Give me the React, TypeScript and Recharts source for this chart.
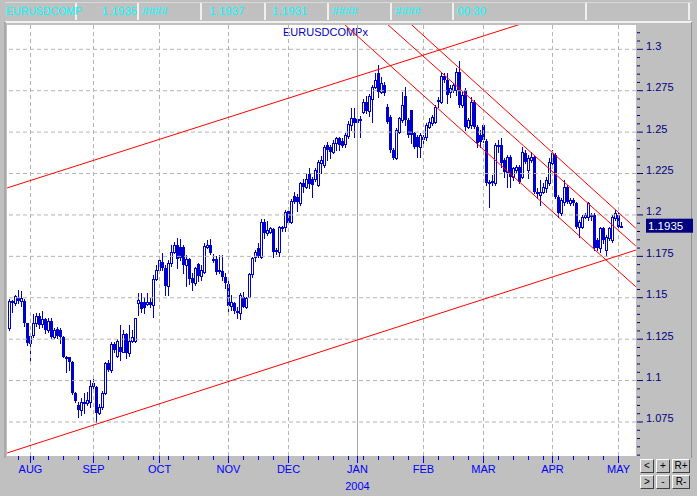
import React from 'react';
import { ComposedChart, Bar, XAxis, YAxis, ReferenceLine } from 'recharts';

// Daily EUR/USD bars, 23 Jul 2003 .. 4 May 2004 (index = trading day)
const opens = [
  1.1315, 1.1478, 1.1466, 1.1496, 1.1482, 1.1482, 1.1345, 1.1229, 1.1275, 1.1345,
  1.1390, 1.1340, 1.1370, 1.1305, 1.1360, 1.1265, 1.1310, 1.1305, 1.1265, 1.1145,
  1.1140, 1.1110, 1.0923, 1.0853, 1.0822, 1.0864, 1.0864, 1.0873, 1.0983, 1.0963,
  1.0806, 1.0843, 1.0927, 1.1104, 1.1064, 1.1221, 1.1148, 1.1205, 1.1175, 1.1281,
  1.1165, 1.1240, 1.1240, 1.1467, 1.1477, 1.1477, 1.1460, 1.1477, 1.1456, 1.1611,
  1.1668, 1.1718, 1.1678, 1.1571, 1.1708, 1.1778, 1.1818, 1.1808, 1.1808, 1.1698,
  1.1732, 1.1617, 1.1587, 1.1703, 1.1631, 1.1658, 1.1808, 1.1818, 1.1734, 1.1734,
  1.1668, 1.1664, 1.1623, 1.1583, 1.1450, 1.1470, 1.1422, 1.1406, 1.1506, 1.1446,
  1.1506, 1.1641, 1.1744, 1.1800, 1.1748, 1.1960, 1.1889, 1.1899, 1.1913, 1.1789,
  1.1779, 1.1920, 1.1925, 1.2025, 1.1960, 1.2116, 1.2110, 1.2070, 1.2191, 1.2171,
  1.2247, 1.2216, 1.2216, 1.2181, 1.2312, 1.2302, 1.2422, 1.2412, 1.2382, 1.2432,
  1.2462, 1.2448, 1.2427, 1.2478, 1.2543, 1.2583, 1.2563, 1.2577, 1.2623, 1.2684,
  1.2628, 1.2700, 1.2774, 1.2855, 1.2744, 1.2784, 1.2654, 1.2593, 1.2392, 1.2342,
  1.2503, 1.2573, 1.2718, 1.2573, 1.2633, 1.2493, 1.2473, 1.2412, 1.2473, 1.2473,
  1.2533, 1.2553, 1.2563, 1.2694, 1.2684, 1.2839, 1.2814, 1.2744, 1.2754, 1.2754,
  1.2865, 1.2664, 1.2754, 1.2533, 1.2543, 1.2684, 1.2533, 1.2483, 1.2543, 1.2448,
  1.2191, 1.2196, 1.2191, 1.2418, 1.2422, 1.2332, 1.2261, 1.2352, 1.2231, 1.2271,
  1.2291, 1.2231, 1.2372, 1.2271, 1.2332, 1.2352, 1.2141, 1.2121, 1.2141, 1.2161,
  1.2191, 1.2312, 1.2362, 1.2110, 1.2010, 1.2080, 1.2171, 1.2072, 1.2090, 1.2070,
  1.1929, 1.1929, 1.1990, 1.1990, 1.2000, 1.2000, 1.1849, 1.1798, 1.1919, 1.1788,
  1.1859, 1.1849, 1.1980, 1.2000, 1.1929,
];
const highs = [
  1.1493, 1.1486, 1.1516, 1.1547, 1.1540, 1.1490, 1.1350, 1.1280, 1.1400, 1.1410,
  1.1410, 1.1420, 1.1376, 1.1380, 1.1375, 1.1320, 1.1325, 1.1320, 1.1270, 1.1150,
  1.1145, 1.1120, 1.0930, 1.0873, 1.0893, 1.0923, 1.0933, 1.1003, 1.1013, 1.0970,
  1.0860, 1.0940, 1.1113, 1.1124, 1.1235, 1.1235, 1.1250, 1.1335, 1.1305, 1.1290,
  1.1335, 1.1305, 1.1380, 1.1527, 1.1527, 1.1507, 1.1530, 1.1497, 1.1637, 1.1698,
  1.1738, 1.1768, 1.1698, 1.1728, 1.1818, 1.1838, 1.1859, 1.1853, 1.1818, 1.1758,
  1.1738, 1.1648, 1.1688, 1.1708, 1.1698, 1.1829, 1.1848, 1.1853, 1.1764, 1.1752,
  1.1758, 1.1758, 1.1648, 1.1607, 1.1517, 1.1476, 1.1446, 1.1527, 1.1537, 1.1506,
  1.1648, 1.1748, 1.1790, 1.1830, 1.1975, 1.1975, 1.1965, 1.1930, 1.1920, 1.1800,
  1.1935, 1.1935, 1.2030, 1.2045, 1.2095, 1.2140, 1.2126, 1.2201, 1.2215, 1.2245,
  1.2281, 1.2231, 1.2281, 1.2332, 1.2356, 1.2422, 1.2443, 1.2422, 1.2452, 1.2472,
  1.2472, 1.2462, 1.2492, 1.2569, 1.2643, 1.2644, 1.2603, 1.2600, 1.2700, 1.2718,
  1.2730, 1.2784, 1.2855, 1.2905, 1.2830, 1.2800, 1.2670, 1.2603, 1.2402, 1.2523,
  1.2593, 1.2744, 1.2774, 1.2583, 1.2633, 1.2503, 1.2483, 1.2493, 1.2483, 1.2553,
  1.2583, 1.2603, 1.2664, 1.2714, 1.2855, 1.2855, 1.2855, 1.2784, 1.2794, 1.2885,
  1.2931, 1.2744, 1.2764, 1.2583, 1.2714, 1.2694, 1.2543, 1.2513, 1.2543, 1.2458,
  1.2211, 1.2241, 1.2433, 1.2453, 1.2462, 1.2342, 1.2362, 1.2362, 1.2291, 1.2301,
  1.2301, 1.2412, 1.2392, 1.2362, 1.2382, 1.2362, 1.2160, 1.2211, 1.2191, 1.2231,
  1.2342, 1.2392, 1.2372, 1.2120, 1.2100, 1.2211, 1.2181, 1.2100, 1.2100, 1.2080,
  1.1969, 1.2000, 1.2010, 1.2080, 1.2010, 1.2010, 1.1859, 1.1929, 1.1929, 1.1879,
  1.1929, 1.2000, 1.2030, 1.2020, 1.1960,
];
const lows = [
  1.1305, 1.1416, 1.1456, 1.1466, 1.1450, 1.1330, 1.1215, 1.1124, 1.1265, 1.1330,
  1.1315, 1.1325, 1.1290, 1.1295, 1.1255, 1.1255, 1.1255, 1.1225, 1.1140, 1.1050,
  1.1065, 1.0920, 1.0870, 1.0782, 1.0792, 1.0802, 1.0855, 1.0843, 1.0947, 1.0752,
  1.0798, 1.0830, 1.0920, 1.1060, 1.1054, 1.1175, 1.1140, 1.1124, 1.1170, 1.1135,
  1.1150, 1.1230, 1.1235, 1.1395, 1.1416, 1.1406, 1.1455, 1.1446, 1.1386, 1.1607,
  1.1660, 1.1668, 1.1517, 1.1517, 1.1692, 1.1768, 1.1678, 1.1728, 1.1648, 1.1571,
  1.1583, 1.1547, 1.1577, 1.1603, 1.1607, 1.1648, 1.1798, 1.1764, 1.1718, 1.1643,
  1.1652, 1.1607, 1.1557, 1.1416, 1.1426, 1.1406, 1.1380, 1.1370, 1.1442, 1.1440,
  1.1502, 1.1627, 1.1720, 1.1745, 1.1740, 1.1860, 1.1879, 1.1889, 1.1748, 1.1767,
  1.1750, 1.1905, 1.1905, 1.1945, 1.1950, 1.2070, 1.2025, 1.2060, 1.2140, 1.2160,
  1.2160, 1.2110, 1.2206, 1.2175, 1.2252, 1.2292, 1.2332, 1.2342, 1.2372, 1.2392,
  1.2392, 1.2412, 1.2412, 1.2462, 1.2513, 1.2473, 1.2523, 1.2473, 1.2613, 1.2618,
  1.2600, 1.2562, 1.2764, 1.2714, 1.2734, 1.2724, 1.2553, 1.2382, 1.2336, 1.2336,
  1.2493, 1.2563, 1.2543, 1.2473, 1.2432, 1.2402, 1.2352, 1.2352, 1.2412, 1.2453,
  1.2523, 1.2543, 1.2553, 1.2654, 1.2674, 1.2804, 1.2674, 1.2714, 1.2744, 1.2724,
  1.2654, 1.2654, 1.2513, 1.2523, 1.2523, 1.2523, 1.2412, 1.2412, 1.2442, 1.2181,
  1.2050, 1.2181, 1.2181, 1.2383, 1.2291, 1.2231, 1.2171, 1.2171, 1.2211, 1.2251,
  1.2191, 1.2221, 1.2312, 1.2221, 1.2322, 1.2130, 1.2100, 1.2060, 1.2130, 1.2141,
  1.2181, 1.2302, 1.2100, 1.1990, 1.2000, 1.2060, 1.2070, 1.2060, 1.2060, 1.1919,
  1.1869, 1.1919, 1.1980, 1.1970, 1.1970, 1.1788, 1.1788, 1.1778, 1.1829, 1.1758,
  1.1849, 1.1839, 1.1970, 1.1919, 1.1925,
];
const closes = [
  1.1482, 1.1466, 1.1510, 1.1482, 1.1496, 1.1345, 1.1229, 1.1269, 1.1345, 1.1390,
  1.1335, 1.1370, 1.1305, 1.1360, 1.1265, 1.1305, 1.1270, 1.1265, 1.1145, 1.1130,
  1.1115, 1.0925, 1.0879, 1.0822, 1.0868, 1.0873, 1.0883, 1.0970, 1.0959, 1.0806,
  1.0843, 1.0927, 1.1104, 1.1064, 1.1221, 1.1185, 1.1239, 1.1175, 1.1281, 1.1165,
  1.1240, 1.1265, 1.1375, 1.1487, 1.1430, 1.1436, 1.1475, 1.1456, 1.1611, 1.1668,
  1.1728, 1.1678, 1.1571, 1.1708, 1.1778, 1.1818, 1.1732, 1.1738, 1.1698, 1.1732,
  1.1613, 1.1587, 1.1678, 1.1631, 1.1668, 1.1813, 1.1818, 1.1772, 1.1724, 1.1658,
  1.1658, 1.1623, 1.1591, 1.1450, 1.1476, 1.1422, 1.1406, 1.1516, 1.1446, 1.1501,
  1.1641, 1.1738, 1.1774, 1.1755, 1.1960, 1.1889, 1.1910, 1.1920, 1.1779, 1.1779,
  1.1925, 1.1925, 1.2020, 1.1953, 1.2085, 1.2080, 1.2080, 1.2191, 1.2171, 1.2216,
  1.2187, 1.2181, 1.2271, 1.2322, 1.2332, 1.2412, 1.2392, 1.2382, 1.2436, 1.2462,
  1.2422, 1.2417, 1.2482, 1.2549, 1.2583, 1.2553, 1.2577, 1.2567, 1.2684, 1.2628,
  1.2718, 1.2774, 1.2814, 1.2744, 1.2794, 1.2734, 1.2563, 1.2392, 1.2342, 1.2513,
  1.2583, 1.2664, 1.2573, 1.2483, 1.2483, 1.2412, 1.2412, 1.2483, 1.2453, 1.2543,
  1.2563, 1.2593, 1.2654, 1.2684, 1.2839, 1.2814, 1.2724, 1.2764, 1.2784, 1.2865,
  1.2664, 1.2724, 1.2533, 1.2573, 1.2684, 1.2533, 1.2432, 1.2442, 1.2453, 1.2191,
  1.2201, 1.2206, 1.2423, 1.2423, 1.2312, 1.2261, 1.2352, 1.2231, 1.2281, 1.2291,
  1.2201, 1.2382, 1.2322, 1.2342, 1.2352, 1.2141, 1.2130, 1.2141, 1.2171, 1.2211,
  1.2322, 1.2372, 1.2110, 1.2010, 1.2090, 1.2171, 1.2080, 1.2090, 1.2074, 1.1929,
  1.1959, 1.1990, 1.2000, 1.2070, 1.1990, 1.1798, 1.1798, 1.1919, 1.1849, 1.1869,
  1.1919, 1.1990, 1.2010, 1.1929, 1.1935,
];

// first trading day of each month, and the Mondays in between
const monthIndex = [7, 28, 50, 73, 93, 116, 138, 158, 181, 203];
const monthNames = ['AUG', 'SEP', 'OCT', 'NOV', 'DEC', 'JAN', 'FEB', 'MAR', 'APR', 'MAY'];
const weekIndex = [
  3, 8, 13, 18, 23, 33, 38, 43, 48, 53, 58, 63, 68, 78, 83, 88, 98, 103, 108, 113,
  118, 123, 128, 133, 143, 148, 153, 163, 168, 173, 178, 183, 188, 193, 198,
];
const yearLabel = { index: 116, text: '2004' };

const priceLevels = [1.075, 1.1, 1.125, 1.15, 1.175, 1.2, 1.225, 1.25, 1.275, 1.3];
const priceLabels = ['1.075', '1.1', '1.125', '1.15', '1.175', '1.2', '1.225', '1.25', '1.275', '1.3'];
const lastPrice = 1.1935;

// trend lines as (bar index, price) pairs
const trendLines = [
  [{ x: -0.8, y: 1.2163 }, { x: 183.5, y: 1.3228 }],
  [{ x: -0.8, y: 1.0563 }, { x: 208.8, y: 1.1788 }],
  [{ x: 110.2, y: 1.3174 }, { x: 208.8, y: 1.1566 }],
  [{ x: 123.5, y: 1.3191 }, { x: 208.8, y: 1.1812 }],
  [{ x: 130.2, y: 1.3211 }, { x: 208.8, y: 1.1919 }],
];

const header = [
  { left: 5, width: 74, text: 'EURUSDCOMP', align: 'left' },
  { left: 79, width: 62, text: '1.1935', align: 'right' },
  { left: 141, width: 63, text: '####', align: 'left' },
  { left: 204, width: 64, text: '1.1937', align: 'left', pad: 5 },
  { left: 268, width: 63, text: '1.1931', align: 'left', pad: 4 },
  { left: 331, width: 63, text: '####', align: 'left' },
  { left: 394, width: 62, text: '####', align: 'left' },
  { left: 456, width: 133, text: '00:30', align: 'left' },
  { left: 589, width: 103, text: '', align: 'left' },
];

const buttons = [
  { left: 640, top: 459, w: 14, text: '<' },
  { left: 656, top: 459, w: 14, text: '+' },
  { left: 672, top: 459, w: 18, text: 'R+' },
  { left: 640, top: 475, w: 14, text: '>' },
  { left: 656, top: 475, w: 14, text: '-' },
  { left: 672, top: 475, w: 18, text: 'R-' },
];

const data = opens.map((o, i) => ({
  i,
  o,
  h: highs[i],
  l: lows[i],
  c: closes[i],
  range: [lows[i], highs[i]],
}));

const yMinor: number[] = [];
for (let k = 0; k <= 51; k++) yMinor.push(Math.round((1.055 + k * 0.005) * 1000) / 1000);
const yTicks = [...yMinor, lastPrice];
const xTicks = [...monthIndex, ...weekIndex].sort((a, b) => a - b);

const BLUE = '#0000CC';
const FONT = "'Liberation Sans', Arial, sans-serif";

function Candle(props: any) {
  const { x, y, width, height, payload } = props;
  if (x == null || y == null) return null;
  const { o, h, l, c } = payload;
  const top = Math.min(y, y + height);
  const bot = Math.max(y, y + height);
  const span = h - l || 1e-9;
  const py = (v: number) => top + ((h - v) / span) * (bot - top);
  // snap to the pixel grid so every stroke is crisp
  const cx = Math.floor(x + width / 2) + 0.5;
  const hiY = Math.round(py(h));
  const loY = Math.round(py(l));
  const bTop = Math.round(py(Math.max(o, c)));
  const bBot = Math.round(py(Math.min(o, c)));
  return (
    <g shapeRendering="crispEdges">
      <line x1={cx} x2={cx} y1={hiY} y2={loY + 1} stroke={BLUE} strokeWidth={1} />
      {c >= o ? (
        <rect x={cx - 1} y={bTop + 0.5} width={2} height={Math.max(bBot - bTop, 1)} fill="#FFFFFF" stroke={BLUE} strokeWidth={1} />
      ) : (
        <rect x={cx - 1.5} y={bTop} width={3} height={Math.max(bBot - bTop, 2)} fill={BLUE} />
      )}
    </g>
  );
}

function XTick(props: any) {
  const { x, y, payload } = props;
  const m = monthIndex.indexOf(payload.value);
  if (m < 0) {
    return <line x1={x} x2={x} y1={y} y2={y + 4} stroke="#0000FF" />;
  }
  return (
    <g>
      <line x1={x} x2={x} y1={y} y2={y + 7} stroke="#0000FF" />
      <text x={x} y={y + 17} textAnchor="middle" fill="#0000FF" fontSize={11} fontFamily={FONT}>
        {monthNames[m]}
      </text>
      {payload.value === yearLabel.index && (
        <text x={x} y={y + 34} textAnchor="middle" fill="#0000FF" fontSize={11} fontFamily={FONT}>
          {yearLabel.text}
        </text>
      )}
    </g>
  );
}

function YTick(props: any) {
  const { x, y, payload } = props;
  const v = payload.value;
  if (v === lastPrice) {
    return (
      <g>
        <rect x={x + 10} y={y - 7} width={47} height={14} fill="#000080" />
        <text x={x + 12} y={y + 4.5} fill="#FFFFFF" fontSize={11.5} fontFamily={FONT}>
          {lastPrice.toFixed(4)}
        </text>
      </g>
    );
  }
  const k = priceLevels.findIndex((p) => Math.abs(p - v) < 1e-6);
  if (k < 0) {
    return <line x1={x + 1} x2={x + 4} y1={y} y2={y} stroke="#000080" />;
  }
  return (
    <g>
      <line x1={x + 1} x2={x + 7} y1={y} y2={y} stroke="#000080" />
      <text x={x + 10} y={y + 0.5} fill="#000080" fontSize={11} fontFamily={FONT}>
        {priceLabels[k]}
      </text>
    </g>
  );
}

export default function App() {
  return (
    <div style={{ position: 'absolute', left: 0, top: 0, width: 697, height: 496, background: '#C0C0C0', overflow: 'hidden', fontFamily: FONT }}>
      {/* header cells */}
      <div style={{ position: 'absolute', left: 5, top: 2, width: 687, height: 18, borderTop: '1px solid #D8D8D8', borderBottom: '2px solid #F0F0F0' }} />
      {header.map((h, k) => (
        <div
          key={k}
          style={{
            position: 'absolute',
            left: h.left,
            top: 3,
            width: h.width - 2,
            height: 17,
            borderRight: '2px solid #F0F0F0',
            color: '#00FFFF',
            fontSize: h.text === 'EURUSDCOMP' ? 10.5 : 11.5,
            lineHeight: '17px',
            textAlign: h.align as any,
            paddingLeft: h.align === 'left' ? (h.pad ?? 1) : 0,
            boxSizing: 'border-box',
            whiteSpace: 'nowrap',
          }}
        >
          {h.text}
        </div>
      ))}
      <div style={{ position: 'absolute', left: 4, top: 22, width: 2, height: 436, background: '#A8A8A8' }} />
      <div style={{ position: 'absolute', left: 691, top: 22, width: 1, height: 436, background: '#909090' }} />
      {/* plot background */}
      <div style={{ position: 'absolute', left: 7, top: 25, width: 629, height: 431, background: '#FFFFFF' }} />
      <div style={{ position: 'absolute', left: 283, top: 25, fontSize: 11, color: '#0000C0', lineHeight: '15px' }}>EURUSDCOMPx</div>
      <div style={{ position: 'absolute', left: 0, top: 0 }}>
        <ComposedChart width={697} height={496} data={data} margin={{ top: 25, right: 0, bottom: 0, left: 7 }}>
          <XAxis
            dataKey="i"
            type="number"
            domain={[-0.8333, 208.8333]}
            allowDataOverflow
            ticks={xTicks}
            interval={0}
            tickLine={false}
            axisLine={false}
            tickSize={0}
            tickMargin={0}
            height={40}
            tick={<XTick />}
          />
          <YAxis
            orientation="right"
            type="number"
            domain={[1.05447, 1.31467]}
            allowDataOverflow
            ticks={yTicks}
            interval={0}
            tickLine={false}
            axisLine={false}
            tickSize={0}
            tickMargin={0}
            width={61}
            tick={<YTick />}
          />
          {priceLevels.map((v) => (
            <ReferenceLine key={'h' + v} y={v} stroke="#B4B4B4" strokeDasharray="4 3" />
          ))}
          {monthIndex.map((m, k) => (
            <ReferenceLine
              key={'v' + m}
              x={m}
              stroke={monthNames[k] === 'JAN' ? '#A8A8A8' : '#B4B4B4'}
              strokeDasharray={monthNames[k] === 'JAN' ? undefined : '4 3'}
            />
          ))}
          <Bar dataKey="range" barSize={3} shape={(p: any) => <Candle {...p} />} isAnimationActive={false} />
          {trendLines.map((seg, k) => (
            <ReferenceLine key={'t' + k} segment={seg} stroke="#FF0000" strokeWidth={1} ifOverflow="hidden" />
          ))}
        </ComposedChart>
      </div>
      {buttons.map((b, k) => (
        <div
          key={k}
          style={{
            position: 'absolute',
            left: b.left,
            top: b.top,
            width: b.w,
            height: 14,
            boxSizing: 'border-box',
            border: '1px solid',
            borderColor: '#FFFFFF #404040 #404040 #FFFFFF',
            background: '#C0C0C0',
            color: '#000000',
            fontSize: 10,
            lineHeight: '12px',
            textAlign: 'center',
          }}
        >
          {b.text}
        </div>
      ))}
    </div>
  );
}
